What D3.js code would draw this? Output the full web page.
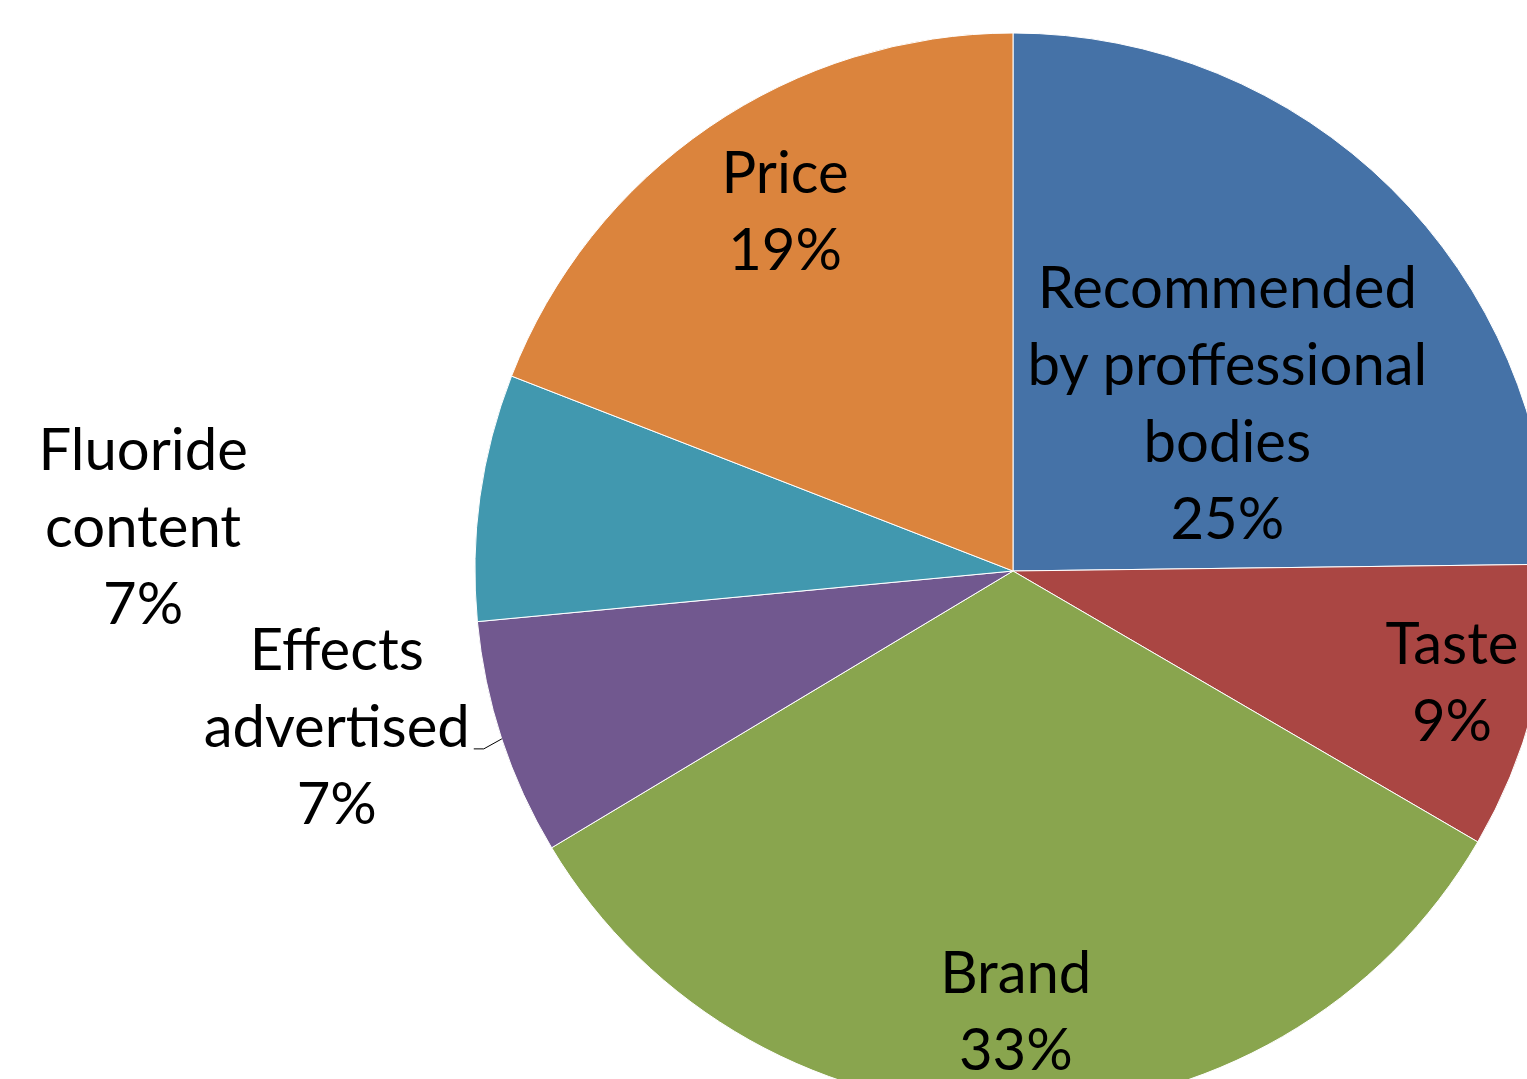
<!DOCTYPE html>
<html>
<head>
<meta charset="utf-8">
<script src="https://cdn.jsdelivr.net/npm/d3@7"></script>
<style>
  html, body { margin: 0; padding: 0; background: #fff; overflow: hidden; }
  svg { display: block; }
</style>
</head>
<body>
<svg id="chart" width="1527" height="1079"></svg>
<script>
// data, clockwise from 12 o'clock
const categories = ["Recommended by proffessional bodies", "Taste", "Brand", "Effects advertised", "Fluoride content", "Price"];
const shares = [24.8, 8.6, 33.0, 7.1, 7.4, 19.1];
const labelLines = [
    ["Recommended", "by proffessional", "bodies"],
    ["Taste"],
    ["Brand"],
    ["Effects", "advertised"],
    ["Fluoride", "content"],
    ["Price"]
];
const colors = ["#4572A7", "#AA4643", "#89A54E", "#71588F", "#4198AF", "#DB843D"];

// layout
let width = 1527, height = 1079;
let cx = 1013, cy = 571, radius = 538;
let fontSize = 58, lineGap = 77;
// label placement: [angle shift in degrees, radius factor]
let labelPlace = [[7.3, 0.506], [-0.5, 0.842], [0, 0.818], [5.2, 1.29], [-5.0, 1.619], [2, 0.791]];

const svg = d3.select("#chart");
const g = svg.append("g").attr("transform", "translate(" + cx + "," + cy + ")");

const pie = d3.pie().sort(null).value(d => d.value);
const arcs = pie(categories.map((c, i) => ({ name: c, value: shares[i], idx: i })));
const arc = d3.arc().innerRadius(0).outerRadius(radius);

g.selectAll("path.slice")
    .data(arcs)
    .enter()
    .append("path")
    .attr("class", "slice")
    .attr("d", arc)
    .attr("fill", d => colors[d.data.idx])
    .attr("stroke", "#fff")
    .attr("stroke-width", 1);

const total = d3.sum(shares);
const polar = (deg, r) => {
    let a = deg * Math.PI / 180;
    return [r * Math.sin(a), -r * Math.cos(a)];
};

arcs.forEach(d => {
    let i = d.data.idx;
    let mid = (d.startAngle + d.endAngle) / 2 * 180 / Math.PI;
    let p = polar(mid + labelPlace[i][0], radius * labelPlace[i][1]);
    let lines = labelLines[i].concat([Math.round(d.data.value / total * 100) + "%"]);
    let firstBase = p[1] + 20 - (lines.length - 1) * lineGap / 2;

    let t = g.append("text")
        .attr("text-anchor", "middle")
        .attr("font-family", "Lato, 'Open Sans', sans-serif")
        .attr("font-size", fontSize)
        .attr("fill", "#000");
    lines.forEach((ln, k) => {
        t.append("tspan")
            .attr("x", p[0])
            .attr("y", firstBase + k * lineGap)
            .text(ln);
    });

    // leader line for labels sitting outside the pie next to their slice
    if (i === 3) {
        let edge = polar(mid, radius);
        let bb = t.node().getBBox();
        let endX = bb.x + bb.width + 4;
        let endY = firstBase + lineGap + 2;
        g.append("path")
            .attr("d", "M" + edge[0] + "," + edge[1] + " L" + (endX + 10) + "," + endY + " L" + endX + "," + endY)
            .attr("fill", "none")
            .attr("stroke", "#000")
            .attr("stroke-width", 1);
    }
});
</script>
</body>
</html>
